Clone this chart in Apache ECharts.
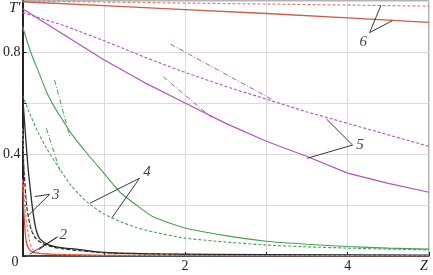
<!DOCTYPE html>
<html><head><meta charset="utf-8">
<script src="https://cdn.jsdelivr.net/npm/echarts@6/dist/echarts.min.js"></script>
<style>html,body{margin:0;padding:0;background:#fff}#c{width:433px;height:275px}</style>
</head><body><div id="c"></div>
<script>
// ---- data (Z, T') ----
const z6s = [0, 1, 2, 3, 4, 5];
const t6s = [0.997, 0.982, 0.966, 0.951, 0.934, 0.916];
const z6d = [0, 1, 2, 3, 4, 5];
const t6d = [1.0, 0.996, 0.992, 0.988, 0.984, 0.980];

const z5s = [0, 0.5, 1, 1.5, 2, 2.5, 3, 3.5, 4, 4.5, 5];
const t5s = [0.97, 0.87, 0.77, 0.68, 0.60, 0.52, 0.45, 0.39, 0.325, 0.285, 0.25];
const z5d = [0, 0.5, 1, 1.5, 2, 2.5, 3, 3.5, 4, 4.5, 5];
const t5d = [0.955, 0.905, 0.845, 0.78, 0.72, 0.665, 0.615, 0.565, 0.52, 0.475, 0.43];
const z5a = [1.82, 3.08];  const t5a = [0.831, 0.612];
const z5b = [1.73, 2.32];  const t5b = [0.703, 0.545];

const z4s = [0, 0.1, 0.2, 0.3, 0.4, 0.5, 0.6, 0.8, 1.0, 1.2, 1.4, 1.6, 2.0, 2.5, 3.0, 3.5, 4.0, 4.5, 5.0];
const t4s = [0.9, 0.80, 0.72, 0.64, 0.58, 0.53, 0.48, 0.40, 0.325, 0.25, 0.20, 0.155, 0.11, 0.08, 0.058, 0.046, 0.037, 0.031, 0.027];
const z4d = [0, 0.1, 0.2, 0.3, 0.45, 0.6, 0.8, 1.0, 1.2, 1.4, 1.6, 2.0, 2.5, 3.0, 3.5, 4.0, 4.5, 5.0];
const t4d = [0.63, 0.55, 0.48, 0.42, 0.345, 0.275, 0.21, 0.165, 0.135, 0.112, 0.095, 0.07, 0.055, 0.043, 0.036, 0.031, 0.027, 0.024];
const z4a = [0.394, 0.58]; const t4a = [0.69, 0.47];
const z4b = [0.293, 0.46]; const t4b = [0.501, 0.335];

const z3s = [0, 0.02, 0.04, 0.07, 0.1, 0.13, 0.17, 0.22, 0.33, 0.5, 0.66, 1, 1.7, 3, 5];
const t3s = [0.63, 0.55, 0.46, 0.34, 0.25, 0.17, 0.10, 0.065, 0.043, 0.032, 0.027, 0.014, 0.008, 0.005, 0.003];
const z3d = [0, 0.02, 0.05, 0.08, 0.11, 0.16, 0.24, 0.35, 0.5, 1, 2, 5];
const t3d = [0.45, 0.33, 0.20, 0.14, 0.10, 0.07, 0.05, 0.037, 0.028, 0.013, 0.006, 0.002];
const z3g = [0, 0.03, 0.06, 0.1, 0.15, 0.25, 0.4, 0.6, 1, 2, 5];
const t3g = [0.5, 0.3, 0.18, 0.12, 0.08, 0.05, 0.035, 0.025, 0.013, 0.006, 0.002];

const z2s = [0, 0.01, 0.025, 0.04, 0.06, 0.1, 0.2, 0.4, 1, 5];
const t2s = [0.3, 0.22, 0.13, 0.07, 0.04, 0.02, 0.01, 0.006, 0.003, 0.001];
const z2d = [0, 0.02, 0.04, 0.06, 0.09, 0.13, 0.2, 0.4, 1, 5];
const t2d = [0.3, 0.24, 0.16, 0.11, 0.055, 0.025, 0.012, 0.006, 0.003, 0.001];

// tick labels
const xTickLabels = {0: '', 2: '2', 4: '4', 5: 'Z'};
const yTickLabels = {0: '0', 0.4: '0.4', 0.8: '0.8', 1: "T'"};

// annotation labels and leader lines (data coordinates)
const noteNames = ['2', '3', '4', '5', '6'];
const noteZ = [0.50, 0.41, 1.53, 4.15, 4.19];
const noteT = [0.082, 0.238, 0.33, 0.435, 0.840];
const leaders = [
  [[0.09, 0.007], [0.43, 0.075], [0.2, 0.025]],
  [[0.15, 0.233], [0.333, 0.242], [0.07, 0.159]],
  [[0.83, 0.207], [1.44, 0.305], [1.1, 0.15]],
  [[3.74, 0.537], [4.06, 0.435], [3.50, 0.383]],
  [[4.41, 0.984], [4.27, 0.876], [4.55, 0.923]]
];

const zip = (a, b) => a.map((v, i) => [v, b[i]]);
const SERIF = '"Liberation Serif", "DejaVu Serif", serif';
const RED6 = '#cc5c48', PUR = '#b453c0', GRN = '#43a352', BLK = '#2a2a2a', RED2 = '#e8402a';

function line(data, color, width, type, smooth) {
  return {type: 'line', data: data, symbol: 'none', smooth: smooth || false, silent: true,
    lineStyle: {color: color, width: width, type: type || 'solid'}, z: 3};
}

const series = [
  line(zip(z6s, t6s), RED6, 1.3),
  line(zip(z6d, t6d), '#d9826f', 1.2, [3, 2]),
  line(zip(z5s, t5s), PUR, 1.2),
  line(zip(z5d, t5d), PUR, 1.1, [3, 2]),
  line(zip(z5a, t5a), PUR, 1, [5, 2, 1, 2]),
  line(zip(z5b, t5b), PUR, 1, [5, 2, 1, 2]),
  line(zip(z4s, t4s), GRN, 1.1, 'solid', 0.2),
  line(zip(z4d, t4d), GRN, 1.1, [3, 2], 0.2),
  line(zip(z4a, t4a), GRN, 1, [5, 2, 1, 2]),
  line(zip(z4b, t4b), GRN, 1, [5, 2, 1, 2]),
  line(zip(z3g, t3g), '#aaaaaa', 1, [3, 2], 0.3),
  line(zip(z3s, t3s), BLK, 1.3, 'solid', 0.3),
  line(zip(z3d, t3d), BLK, 1.1, [4, 2], 0.3),
  line(zip(z2s, t2s), RED2, 1.2, 'solid', 0.3),
  line(zip(z2d, t2d), '#f07a60', 1.1, [3, 2], 0.3)
];
leaders.forEach(l => series.push({type: 'line', data: l, symbol: 'none', silent: true,
  lineStyle: {color: '#222', width: 0.9}, z: 4}));
series.push({type: 'scatter', symbolSize: 0, silent: true, z: 5,
  data: noteNames.map((n, i) => ({name: n, value: [noteZ[i], noteT[i]]})),
  label: {show: true, position: 'inside', formatter: p => p.name, color: '#111',
    fontFamily: SERIF, fontStyle: 'italic', fontSize: 15}});

const chart = echarts.init(document.getElementById('c'), null, {renderer: 'canvas'});
chart.setOption({
  animation: false,
  backgroundColor: '#fff',
  grid: {left: 20, right: 4, top: 1, bottom: 19, show: true, borderColor: '#666', borderWidth: 1},
  xAxis: {type: 'value', min: 0, max: 5, interval: 1,
    axisLine: {show: true, onZero: false, lineStyle: {color: '#222', width: 1.5}},
    axisTick: {show: true, inside: true, length: 4, lineStyle: {color: '#222'}},
    splitLine: {show: true, lineStyle: {color: '#dadada', width: 1}},
    axisLabel: {margin: 3, color: '#222', fontFamily: SERIF, fontSize: 14,
      formatter: v => xTickLabels[v] !== undefined ? (v === 5 ? '{z|Z}' : xTickLabels[v]) : '',
      rich: {z: {fontFamily: SERIF, fontStyle: 'italic', fontSize: 14, color: '#222', padding: [0, 10, 0, 0]}}}
  },
  yAxis: {type: 'value', min: 0, max: 1, interval: 0.2,
    axisLine: {show: true, onZero: false, lineStyle: {color: '#222', width: 2}},
    axisTick: {show: true, inside: true, length: 4, lineStyle: {color: '#222'}},
    splitLine: {show: true, lineStyle: {color: '#dadada', width: 1}},
    axisLabel: {margin: 2, color: '#222', fontFamily: SERIF, fontSize: 14,
      formatter: v => {
        const k = Math.round(v * 10) / 10;
        if (k === 1) return '{t|' + yTickLabels[1] + '}';
        if (k === 0) return '{o|' + yTickLabels[0] + '}';
        return yTickLabels[k] || '';
      },
      rich: {
        t: {fontFamily: SERIF, fontStyle: 'italic', fontSize: 15, color: '#222', padding: [14, 0, 0, 0]},
        o: {fontFamily: SERIF, fontSize: 14, color: '#222', padding: [12, 2, 0, 0]}
      }}
  },
  series: series
});
</script></body></html>
